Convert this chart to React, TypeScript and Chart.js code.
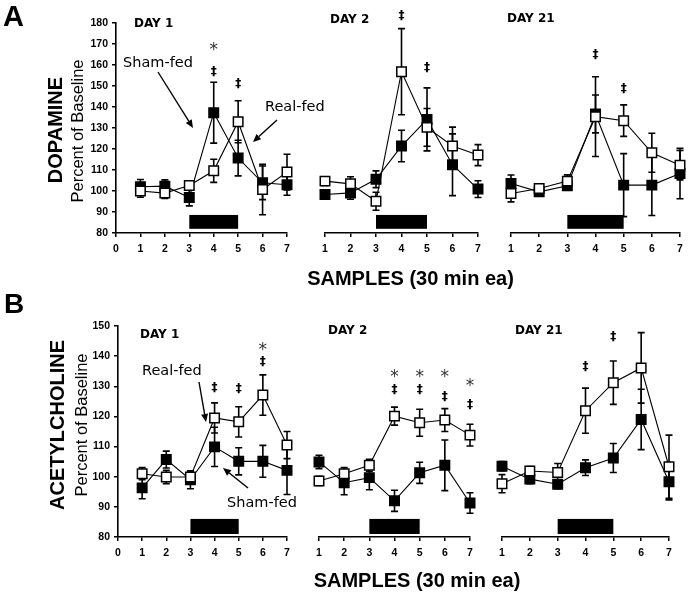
import React, { useEffect, useRef } from "react";
import { Chart, registerables } from "chart.js";
Chart.register(...registerables);

// ---------- DATA ----------
const samples = [1, 2, 3, 4, 5, 6, 7];
const feedWindow = [3, 5];
const feedLevelA = [82, 88.6];
const feedLevelB = [81, 86];

// A: Dopamine (percent of baseline)
const daDay1Real = [100, 99, 102.6, 109.6, 133, 100.7, 109];
const daDay1RealSem = [3, 2.5, 2, 5.5, 10, 12, 8.5];
const daDay1Sham = [102, 102.3, 96.9, 137.3, 115.7, 103.9, 103];
const daDay1ShamSem = [3.5, 3, 4, 14.5, 8.5, 8, 5];
const daDay1Dagger = [null, null, null, 156.7, 151.4, null, null];
const daDay1Star = [null, null, null, 168.6, null, null, null];

const daDay2Real = [104.7, 103.4, 95.1, 156.8, 130.3, 121.4, 117.1];
const daDay2RealSem = [2, 3.4, 4.3, 20.5, 9, 9, 5];
const daDay2Sham = [98.3, 99.1, 105.6, 121.4, 134.1, 112.5, 100.9];
const daDay2ShamSem = [2, 3, 4, 7.5, 15, 14.7, 4];
const daDay2Dagger = [null, null, null, 183.8, 158.6, null, null];
const daDay2Star = [null, null, null, null, null, null, null];

const daDay21Real = [98.8, 101.2, 104.7, 135.4, 133.5, 118.2, 112.3];
const daDay21RealSem = [4, 2, 3, 19, 7.5, 9.3, 7];
const daDay21Sham = [103.6, 99.6, 102.5, 136.7, 102.8, 102.8, 108.3];
const daDay21ShamSem = [4, 2, 2, 9, 15, 14.5, 12];
const daDay21Dagger = [null, null, null, 164.8, 149, null, null];
const daDay21Star = [null, null, null, null, null, null, null];

// B: Acetylcholine (percent of baseline)
const achDay1Real = [101, 99.9, 99.9, 119.5, 118.2, 127.1, 110.5];
const achDay1RealSem = [2, 2.2, 2, 5, 5, 6.7, 4.5];
const achDay1Sham = [96.3, 105.7, 99, 109.9, 105.1, 105.1, 102.1];
const achDay1ShamSem = [3.6, 2.8, 3, 6.5, 4.5, 5.3, 8];
const achDay1Dagger = [null, null, null, 129.5, 129.2, 138.1, null];
const achDay1Star = [null, null, null, null, null, 143.1, null];

const achDay2Real = [98.6, 101, 103.8, 120.1, 117.9, 118.8, 113.8];
const achDay2RealSem = [1.5, 2, 2, 3, 4.5, 3.8, 3.6];
const achDay2Sham = [104.9, 98, 99.7, 92, 101.3, 103.8, 91.3];
const achDay2ShamSem = [2.2, 4, 4, 3.5, 3.5, 8.4, 3.4];
const achDay2Dagger = [null, null, null, 128.8, 128.8, 126.5, 123.9];
const achDay2Star = [null, null, null, 134.2, 134.2, 134.2, 131.2];

const achDay21Real = [97.7, 101.9, 101.4, 121.9, 131.2, 136.1, 103.3];
const achDay21RealSem = [3, 1.5, 3, 7.5, 7.2, 11.7, 10.5];
const achDay21Sham = [103.5, 99.2, 97.5, 103, 106.2, 119, 98.3];
const achDay21ShamSem = [1.5, 1.5, 1.5, 2.6, 4.8, 10, 6];
const achDay21Dagger = [null, null, null, 136.5, 146.4, null, null];
const achDay21Star = [null, null, null, null, null, null, null];

const yRangeA = [80, 180];
const yRangeB = [80, 150];

// ---------- LAYOUT ----------
type Panel = {
  left: number; top: number; width: number; height: number;
  padL: number; padR: number; padT: number; yW: number; xH: number;
  showY: boolean; xMin: number; yRange: number[]; feedLevel: number[];
  real: number[]; realSem: number[]; sham: number[]; shamSem: number[];
  dagger: (number | null)[]; star: (number | null)[];
};

const panels: Panel[] = [
  { left: 60, top: 0, width: 240, height: 262, padL: 0, padR: 13, padT: 23, yW: 56, xH: 29, showY: true, xMin: 0, yRange: yRangeA, feedLevel: feedLevelA,
    real: daDay1Real, realSem: daDay1RealSem, sham: daDay1Sham, shamSem: daDay1ShamSem, dagger: daDay1Dagger, star: daDay1Star },
  { left: 300, top: 0, width: 195, height: 262, padL: 25, padR: 17, padT: 23, yW: 0, xH: 29, showY: false, xMin: 1, yRange: yRangeA, feedLevel: feedLevelA,
    real: daDay2Real, realSem: daDay2RealSem, sham: daDay2Sham, shamSem: daDay2ShamSem, dagger: daDay2Dagger, star: daDay2Star },
  { left: 495, top: 0, width: 194, height: 262, padL: 16, padR: 9, padT: 23, yW: 0, xH: 29, showY: false, xMin: 1, yRange: yRangeA, feedLevel: feedLevelA,
    real: daDay21Real, realSem: daDay21RealSem, sham: daDay21Sham, shamSem: daDay21ShamSem, dagger: daDay21Dagger, star: daDay21Star },
  { left: 60, top: 300, width: 240, height: 266, padL: 0, padR: 13, padT: 26, yW: 58, xH: 29, showY: true, xMin: 0, yRange: yRangeB, feedLevel: feedLevelB,
    real: achDay1Real, realSem: achDay1RealSem, sham: achDay1Sham, shamSem: achDay1ShamSem, dagger: achDay1Dagger, star: achDay1Star },
  { left: 300, top: 300, width: 195, height: 266, padL: 19, padR: 25, padT: 26, yW: 0, xH: 29, showY: false, xMin: 1, yRange: yRangeB, feedLevel: feedLevelB,
    real: achDay2Real, realSem: achDay2RealSem, sham: achDay2Sham, shamSem: achDay2ShamSem, dagger: achDay2Dagger, star: achDay2Star },
  { left: 490, top: 300, width: 199, height: 266, padL: 12, padR: 20, padT: 26, yW: 0, xH: 29, showY: false, xMin: 1, yRange: yRangeB, feedLevel: feedLevelB,
    real: achDay21Real, realSem: achDay21RealSem, sham: achDay21Sham, shamSem: achDay21ShamSem, dagger: achDay21Dagger, star: achDay21Star },
];

const ARIAL = '"Liberation Sans", Arial, sans-serif';
const VERDANA = '"DejaVu Sans", Verdana, sans-serif';

function PanelChart({ p }: { p: Panel }) {
  const ref = useRef<HTMLCanvasElement | null>(null);
  useEffect(() => {
    if (!ref.current) return;
    const extras = {
      id: "panelExtras",
      beforeDatasetsDraw(chart: any) {
        const { ctx } = chart;
        const x = chart.scales.x, y = chart.scales.y;
        ctx.save();
        ctx.fillStyle = "#000";
        const fx0 = x.getPixelForValue(feedWindow[0]);
        const fx1 = x.getPixelForValue(feedWindow[1]);
        const fy0 = y.getPixelForValue(p.feedLevel[1]);
        const fy1 = y.getPixelForValue(p.feedLevel[0]);
        ctx.fillRect(fx0, fy0, fx1 - fx0, fy1 - fy0);
        ctx.strokeStyle = "#000";
        ctx.lineWidth = 1.6;
        chart.data.datasets.forEach((ds: any) => {
          const errs: number[] = ds.errors;
          ds.data.forEach((pt: any, j: number) => {
            const px = x.getPixelForValue(pt.x);
            const t = y.getPixelForValue(pt.y + errs[j]);
            const b = y.getPixelForValue(pt.y - errs[j]);
            ctx.beginPath();
            ctx.moveTo(px, t); ctx.lineTo(px, b);
            ctx.moveTo(px - 3.5, t); ctx.lineTo(px + 3.5, t);
            ctx.moveTo(px - 3.5, b); ctx.lineTo(px + 3.5, b);
            ctx.stroke();
          });
        });
        ctx.restore();
      },
      afterDraw(chart: any) {
        const { ctx } = chart;
        const x = chart.scales.x, y = chart.scales.y;
        ctx.save();
        ctx.fillStyle = "#000";
        ctx.textAlign = "center";
        ctx.textBaseline = "alphabetic";
        const drawSym = (sym: string, font: string, color: string, levels: (number | null)[]) => {
          ctx.font = font;
          ctx.fillStyle = color;
          const m = ctx.measureText(sym);
          const off = (m.actualBoundingBoxAscent - m.actualBoundingBoxDescent) / 2;
          levels.forEach((lv, j) => {
            if (lv == null) return;
            ctx.fillText(sym, x.getPixelForValue(samples[j]), y.getPixelForValue(lv) + off);
          });
        };
        drawSym("\u2021", `bold 12px ${VERDANA}`, "#000", p.dagger);
        drawSym("*", `17px ${VERDANA}`, "#333", p.star);
        ctx.restore();
      },
    };
    const mk = (vals: number[]) => samples.map((s, i) => ({ x: s, y: vals[i] }));
    const tickFont = { family: ARIAL, size: 10.5, weight: "bold" as const };
    const chart = new Chart(ref.current, {
      type: "line",
      data: {
        datasets: [
          { label: "Real-fed", data: mk(p.real), errors: p.realSem, borderColor: "#000", borderWidth: 1.1, pointStyle: "rect", pointRadius: 6.7,
            pointBackgroundColor: "#fff", pointBorderColor: "#000", pointBorderWidth: 1.5, clip: false, tension: 0 } as any,
          { label: "Sham-fed", data: mk(p.sham), errors: p.shamSem, borderColor: "#000", borderWidth: 1.1, pointStyle: "rect", pointRadius: 6.7,
            pointBackgroundColor: "#000", pointBorderColor: "#000", pointBorderWidth: 1.5, clip: false, tension: 0 } as any,
        ],
      },
      options: {
        responsive: false,
        animation: false,
        devicePixelRatio: 1,
        layout: { padding: { left: p.padL, right: p.padR, top: p.padT, bottom: 0 } },
        plugins: { legend: { display: false }, tooltip: { enabled: false } },
        events: [],
        scales: {
          x: {
            type: "linear", min: p.xMin, max: 7,
            ticks: { stepSize: 1, color: "#000", font: tickFont, padding: 6, autoSkip: false, maxRotation: 0 },
            grid: { drawOnChartArea: false, drawTicks: true, tickLength: 4, color: "#000", lineWidth: 1.5 },
            border: { display: true, color: "#000", width: 1.6 },
            afterFit: (s: any) => { s.height = p.xH; },
          },
          y: {
            display: p.showY, min: p.yRange[0], max: p.yRange[1],
            ticks: { stepSize: 10, color: "#000", font: tickFont, padding: 4 },
            grid: { drawOnChartArea: false, drawTicks: true, tickLength: 4, color: "#000", lineWidth: 1.5 },
            border: { display: true, color: "#000", width: 1.6 },
            afterFit: (s: any) => { if (p.showY) s.width = p.yW; },
          },
        },
      },
      plugins: [extras],
    });
    return () => chart.destroy();
  }, [p]);
  return (
    <canvas ref={ref} width={p.width} height={p.height}
      style={{ position: "absolute", left: p.left, top: p.top, width: p.width, height: p.height }} />
  );
}

function Arrow({ x1, y1, x2, y2 }: { x1: number; y1: number; x2: number; y2: number }) {
  const dx = x2 - x1, dy = y2 - y1;
  const len = Math.hypot(dx, dy);
  const ux = dx / len, uy = dy / len;
  const hl = 8, hw = 3.5;
  const bx = x2 - ux * hl, by = y2 - uy * hl;
  const pts = `${x2},${y2} ${bx - uy * hw},${by + ux * hw} ${bx + uy * hw},${by - ux * hw}`;
  return (
    <g>
      <line x1={x1} y1={y1} x2={bx} y2={by} stroke="#000" strokeWidth={1.4} />
      <polygon points={pts} fill="#000" />
    </g>
  );
}

export default function App() {
  const dayStyle = { fontFamily: VERDANA, fontWeight: 700, fontSize: 12 } as const;
  const noteStyle = { fontFamily: VERDANA, fontSize: 14.5 } as const;
  return (
    <div style={{ position: "absolute", left: 0, top: 0, width: 689, height: 598, background: "#fff", overflow: "hidden" }}>
      {panels.map((p, i) => <PanelChart key={i} p={p} />)}
      <svg width={689} height={598} style={{ position: "absolute", left: 0, top: 0, pointerEvents: "none" }}>
        <text x={3} y={26} style={{ fontFamily: ARIAL, fontWeight: 700, fontSize: 29 }}>A</text>
        <text x={4} y={313} style={{ fontFamily: ARIAL, fontWeight: 700, fontSize: 28 }}>B</text>

        <text transform="translate(62,130) rotate(-90)" textAnchor="middle" style={{ fontFamily: ARIAL, fontWeight: 700, fontSize: 20 }}>DOPAMINE</text>
        <text transform="translate(83,131) rotate(-90)" textAnchor="middle" style={{ fontFamily: ARIAL, fontSize: 16.5 }}>Percent of Baseline</text>
        <text transform="translate(64,425) rotate(-90)" textAnchor="middle" style={{ fontFamily: ARIAL, fontWeight: 700, fontSize: 20 }}>ACETYLCHOLINE</text>
        <text transform="translate(87,425) rotate(-90)" textAnchor="middle" style={{ fontFamily: ARIAL, fontSize: 16.5 }}>Percent of Baseline</text>

        <text x={410.5} y={284.5} textAnchor="middle" style={{ fontFamily: ARIAL, fontWeight: 700, fontSize: 20 }}>SAMPLES (30 min ea)</text>
        <text x={417} y={587} textAnchor="middle" style={{ fontFamily: ARIAL, fontWeight: 700, fontSize: 20 }}>SAMPLES (30 min ea)</text>

        <text x={134} y={27} style={dayStyle}>DAY 1</text>
        <text x={330} y={23} style={dayStyle}>DAY 2</text>
        <text x={507} y={22} style={dayStyle}>DAY 21</text>
        <text x={140} y={338} style={dayStyle}>DAY 1</text>
        <text x={328} y={334} style={dayStyle}>DAY 2</text>
        <text x={515} y={334} style={dayStyle}>DAY 21</text>

        <text x={123} y={67} style={noteStyle}>Sham-fed</text>
        <Arrow x1={158} y1={72} x2={193} y2={128} />
        <text x={265} y={111} style={noteStyle}>Real-fed</text>
        <Arrow x1={277} y1={120} x2={253} y2={142} />
        <text x={142} y={375} style={noteStyle}>Real-fed</text>
        <Arrow x1={199} y1={382} x2={206} y2={422} />
        <text x={227} y={507} style={noteStyle}>Sham-fed</text>
        <Arrow x1={248} y1={488} x2={223} y2={468} />
      </svg>
    </div>
  );
}
